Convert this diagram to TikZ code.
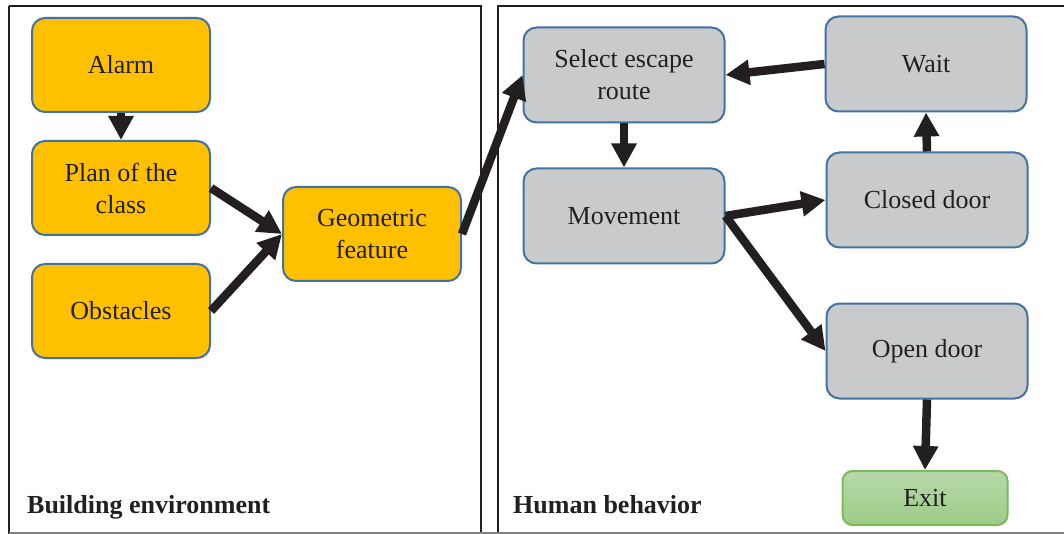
\documentclass[tikz,border=0pt]{standalone}
\usepackage{fontspec}
\setmainfont{Liberation Serif}
\usetikzlibrary{arrows.meta}
\definecolor{orangefill}{HTML}{FFC000}
\definecolor{grayfill}{HTML}{C9CACC}
\definecolor{nodeborder}{HTML}{4472A0}
\definecolor{txt}{HTML}{231F20}
\definecolor{greentop}{HTML}{B7D9AA}
\definecolor{greenbot}{HTML}{9DCB87}
\definecolor{greenborder}{HTML}{7DB85A}
\tikzset{
  box/.style={rectangle, rounded corners=13pt, draw=nodeborder, line width=2pt,
    text=txt, align=center, font=\fontsize{26}{32}\selectfont, inner sep=0pt},
  orangebox/.style={box, fill=orangefill, minimum width=178pt, minimum height=94pt},
  graybox/.style={box, fill=grayfill, minimum width=201pt, minimum height=95pt},
  exitbox/.style={box, draw=greenborder, top color=greentop, bottom color=greenbot,
    minimum width=165pt, minimum height=54pt, rounded corners=10pt},
  panel/.style={draw=txt, line width=2pt},
  flow/.style={draw=txt, line width=8.5pt, -{Triangle[width=24pt,length=24pt]}},
  paneltitle/.style={anchor=base west, text=txt, font=\fontsize{26}{32}\selectfont\bfseries, inner sep=0pt}
}
\begin{document}
\begin{tikzpicture}[x=1pt,y=-1pt]
\useasboundingbox (0,0) rectangle (1064,534);
\begin{scope}
\clip (0,0) rectangle (1064,534);
\draw[panel] (9,6) -- (481,6) -- (481,545);
\draw[panel] (9,545) -- (9,6);
\draw[panel] (498,545) -- (498,6) -- (1075,6);
\end{scope}
\draw[gray, line width=1.5pt] (9,533) -- (1064,533);

\node[paneltitle] (t1) at (27,513) {Building environment};
\node[paneltitle] (t2) at (513,513) {Human behavior};

\node[orangebox] (alarm) at (121,65) {Alarm};
\node[orangebox] (plan) at (121,188) {Plan of the\\class};
\node[orangebox] (obst) at (121,311) {Obstacles};
\node[orangebox] (geo) at (372,234) {Geometric\\feature};

\node[graybox] (sel) at (624,75) {Select escape\\route};
\node[graybox] (mov) at (624,216) {Movement};
\node[graybox] (wait) at (926,64) {Wait};
\node[graybox] (closed) at (927,200) {Closed door};
\node[graybox] (open) at (927,351) {Open door};
\node[exitbox] (exit) at (925,498) {Exit};

\draw[flow] (alarm.south) -- (plan.north);
\draw[flow] (plan.east) -- (geo.west);
\draw[flow] (obst.east) -- (geo.west);
\draw[flow] (geo.east) -- (sel.west);
\draw[flow] (sel.south) -- (mov.north);
\draw[flow] (wait.west) -- (sel.east);
\draw[flow] (mov.east) -- (closed.west);
\draw[flow] (mov.east) -- (open.west);
\draw[flow] (closed.north) -- (wait.south);
\draw[flow] (open.south) -- (exit.north);
\end{tikzpicture}
\end{document}
